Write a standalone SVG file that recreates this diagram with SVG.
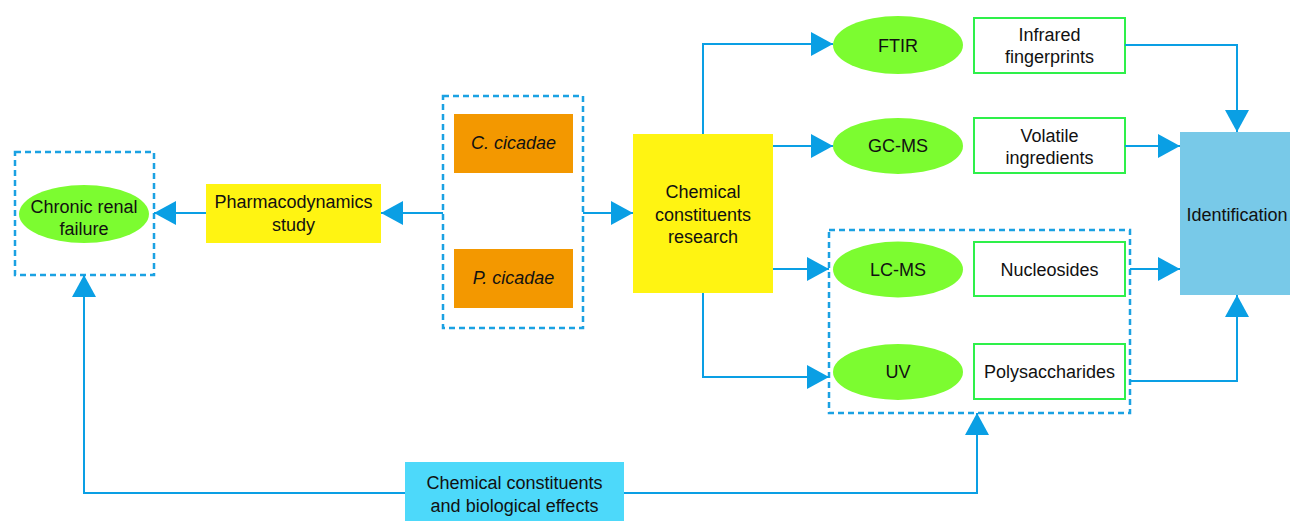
<svg xmlns="http://www.w3.org/2000/svg" width="1290" height="523" viewBox="0 0 1290 523">
<defs>
<marker id="ah" markerUnits="userSpaceOnUse" markerWidth="22" markerHeight="24" refX="22" refY="12" orient="auto" viewBox="0 0 22 24">
<path d="M0,0 L22,12 L0,24 z" fill="#0A9FE4"/>
</marker>
<style>
text{font-family:"Liberation Sans",Arial,sans-serif;font-size:18px;fill:#111;text-anchor:middle}
.dash{fill:none;stroke:#1BA1E2;stroke-width:2.5;stroke-dasharray:6,4}
.ell{fill:#7CFC30}
.wb{fill:#fff;stroke:#2EF04A;stroke-width:2}
.yb{fill:#FFF412}
.ob{fill:#F39800}
.conn path{fill:none;stroke:#0A9FE4;stroke-width:2;marker-end:url(#ah)}
</style>
</defs>
<rect width="1290" height="523" fill="#fff"/>

<g id="group-left"><rect class="dash" x="15" y="152" width="139" height="123"/></g>
<g id="group-middle"><rect class="dash" x="443" y="96" width="140" height="232"/></g>
<g id="group-lower"><rect class="dash" x="829" y="230" width="301" height="183"/></g>

<g id="crf"><ellipse class="ell" cx="84" cy="214" rx="65" ry="29"/><text x="84" y="213">Chronic renal</text><text x="84" y="235">failure</text></g>
<g id="pharma"><rect class="yb" x="206" y="184" width="175" height="59"/><text x="293.5" y="208">Pharmacodynamics</text><text x="293.5" y="231">study</text></g>
<g id="ccicadae"><rect class="ob" x="454" y="114" width="119" height="59"/><text x="513.5" y="149" font-style="italic">C. cicadae</text></g>
<g id="pcicadae"><rect class="ob" x="454" y="249" width="119" height="59"/><text x="513.5" y="284" font-style="italic">P. cicadae</text></g>
<g id="chem"><rect class="yb" x="633" y="134" width="140" height="159"/><text x="703" y="198">Chemical</text><text x="703" y="221">constituents</text><text x="703" y="243">research</text></g>
<g id="ftir"><ellipse class="ell" cx="898" cy="45" rx="65" ry="29"/><text x="898" y="52">FTIR</text></g>
<g id="gcms"><ellipse class="ell" cx="898" cy="146" rx="65" ry="28"/><text x="898" y="152">GC-MS</text></g>
<g id="lcms"><ellipse class="ell" cx="898" cy="269.5" rx="65" ry="28"/><text x="898" y="276">LC-MS</text></g>
<g id="uv"><ellipse class="ell" cx="898" cy="372" rx="65" ry="28"/><text x="898" y="378">UV</text></g>
<g id="infrared"><rect class="wb" x="974" y="18" width="151" height="55"/><text x="1049.5" y="41">Infrared</text><text x="1049.5" y="63">fingerprints</text></g>
<g id="volatile"><rect class="wb" x="974" y="118" width="151" height="55"/><text x="1049.5" y="142">Volatile</text><text x="1049.5" y="164">ingredients</text></g>
<g id="nucleosides"><rect class="wb" x="974" y="242" width="151" height="54"/><text x="1049.5" y="276">Nucleosides</text></g>
<g id="polysaccharides"><rect class="wb" x="974" y="344" width="151" height="55"/><text x="1049.5" y="378">Polysaccharides</text></g>
<g id="identification"><rect x="1180" y="132" width="110" height="163" fill="#78C9E8"/><text x="1237" y="221">Identification</text></g>
<g id="bio"><rect x="405" y="462" width="219" height="59" fill="#4DD9FA"/><text x="514.5" y="489">Chemical constituents</text><text x="514.5" y="512">and biological effects</text></g>

<g id="connectors" class="conn">
<path d="M443,213 L381,213"/>
<path d="M206,213 L154,213"/>
<path d="M583,213 L633,213"/>
<path d="M703,134 L703,44 L833,44"/>
<path d="M773,146 L833,146"/>
<path d="M773,269 L829,269"/>
<path d="M703,293 L703,377 L829,377"/>
<path d="M1125,45 L1237,45 L1237,132"/>
<path d="M1125,146 L1180,146"/>
<path d="M1130,269 L1180,269"/>
<path d="M1130,381 L1237,381 L1237,295"/>
<path d="M405,493 L84,493 L84,275"/>
<path d="M624,493 L977,493 L977,413"/>
</g>
</svg>
